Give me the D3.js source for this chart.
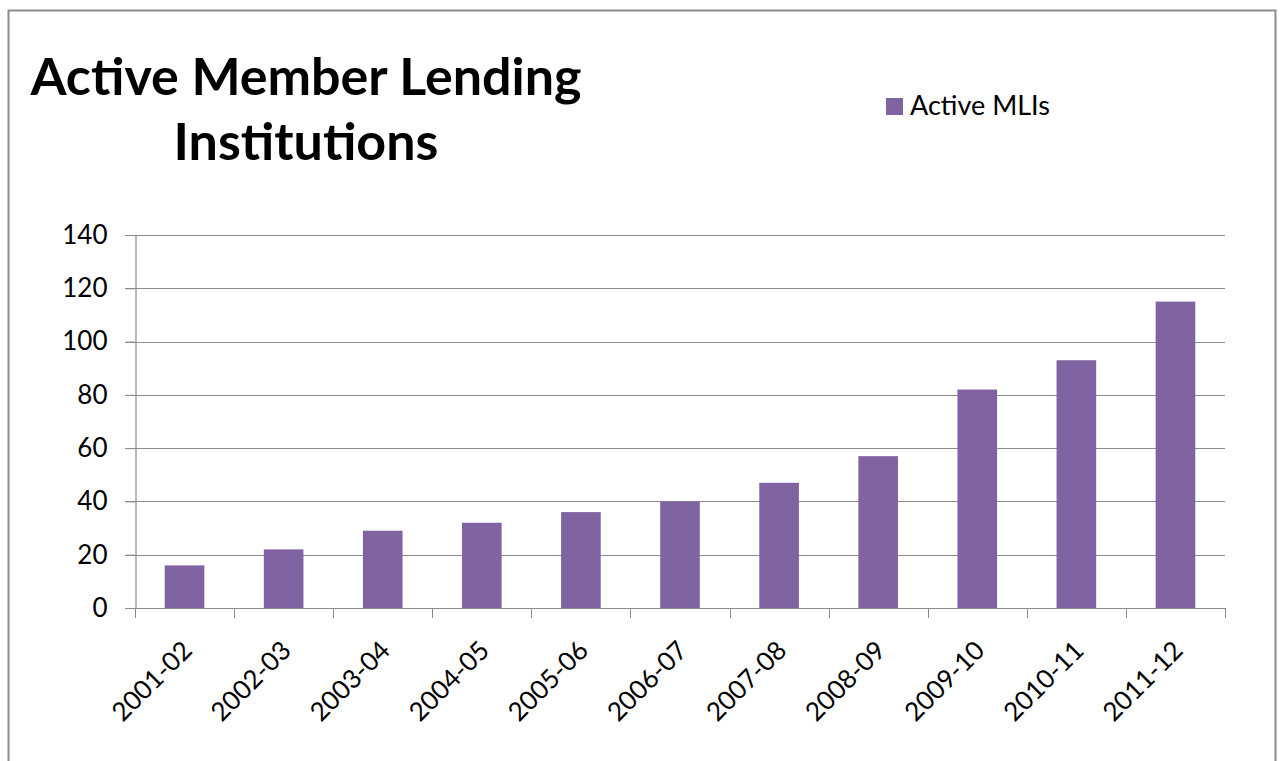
<!DOCTYPE html>
<html>
<head>
<meta charset="utf-8">
<script src="https://cdn.jsdelivr.net/npm/d3@7"></script>
<style>
  html, body { margin: 0; padding: 0; background: #fff; }
  svg { display: block; font-family: Lato, "Open Sans", sans-serif; }
</style>
</head>
<body>
<div id="chart"></div>
<script>
const years = ['2001-02', '2002-03', '2003-04', '2004-05', '2005-06', '2006-07',
  '2007-08', '2008-09', '2009-10', '2010-11', '2011-12'];
const activeMLIs = [16, 22, 29, 32, 36, 40, 47, 57, 82, 93, 115];
const yTicks = [0, 20, 40, 60, 80, 100, 120, 140];
const seriesName = 'Active MLIs';

const W = 1282, H = 761;
const m = { left: 135, right: 1225, top: 235, bottom: 608 };
const barColor = '#8064a2';
const grey = '#8c8c8c';

const svg = d3.select('#chart').append('svg')
  .attr('width', W).attr('height', H);

// outer chart border
svg.append('rect')
  .attr('x', 8.5).attr('y', 10.5).attr('width', 1267).attr('height', 800)
  .attr('fill', '#fff').attr('stroke', grey).attr('stroke-width', 2);

// title
const title = svg.append('text')
  .attr('text-anchor', 'middle')
  .attr('font-weight', 700).attr('font-size', 52).attr('fill', '#000');
title.append('tspan').attr('x', 306).attr('y', 95).text('Active Member Lending');
title.append('tspan').attr('x', 306).attr('y', 160).text('Institutions');

// legend
svg.append('rect').attr('x', 886).attr('y', 98).attr('width', 17).attr('height', 17)
  .attr('fill', barColor);
svg.append('text').attr('x', 910).attr('y', 115)
  .attr('font-size', 27).attr('fill', '#000').text(seriesName);

const x = d3.scaleBand().domain(years).range([m.left, m.right]).paddingInner(0.6).paddingOuter(0.3);
const y = d3.scaleLinear().domain([0, 140]).range([m.bottom, m.top]);

// gridlines
svg.append('g').selectAll('line').data(yTicks).join('line')
  .attr('x1', m.left - 10).attr('x2', m.right)
  .attr('y1', d => Math.round(y(d)) + 0.5).attr('y2', d => Math.round(y(d)) + 0.5)
  .attr('stroke', grey).attr('stroke-width', 1.2);

// bars
svg.append('g').selectAll('rect').data(activeMLIs).join('rect')
  .attr('x', (d, i) => x(years[i]))
  .attr('width', x.bandwidth())
  .attr('y', d => y(d))
  .attr('height', d => y(0) - y(d))
  .attr('fill', barColor);

// y axis
const yAxis = svg.append('g').attr('transform', `translate(${m.left + 0.5},0)`)
  .call(d3.axisLeft(y).tickValues(yTicks).tickSize(10).tickPadding(18));
yAxis.select('.domain').attr('stroke', grey).attr('stroke-width', 1.2);
yAxis.selectAll('.tick line').attr('stroke', grey);
yAxis.selectAll('.tick text').attr('font-size', 26).attr('fill', '#000')
  .attr('font-family', 'Lato, "Open Sans", sans-serif');

// x axis with ticks between categories
const bounds = d3.range(years.length + 1).map(i => m.left + i * (m.right - m.left) / years.length);
const xg = svg.append('g');
xg.append('line').attr('x1', m.left).attr('x2', m.right)
  .attr('y1', m.bottom + 0.5).attr('y2', m.bottom + 0.5)
  .attr('stroke', grey).attr('stroke-width', 1.2);
xg.selectAll('line.tk').data(bounds).join('line').attr('class', 'tk')
  .attr('x1', d => Math.round(d) + 0.5).attr('x2', d => Math.round(d) + 0.5)
  .attr('y1', m.bottom).attr('y2', m.bottom + 10)
  .attr('stroke', grey);
xg.selectAll('text').data(years).join('text')
  .attr('text-anchor', 'end')
  .attr('font-size', 26).attr('fill', '#000')
  .attr('transform', d => `translate(${x(d) + x.bandwidth() / 2 + 9},${m.bottom + 44}) rotate(-45)`)
  .text(d => d);
</script>
</body>
</html>
